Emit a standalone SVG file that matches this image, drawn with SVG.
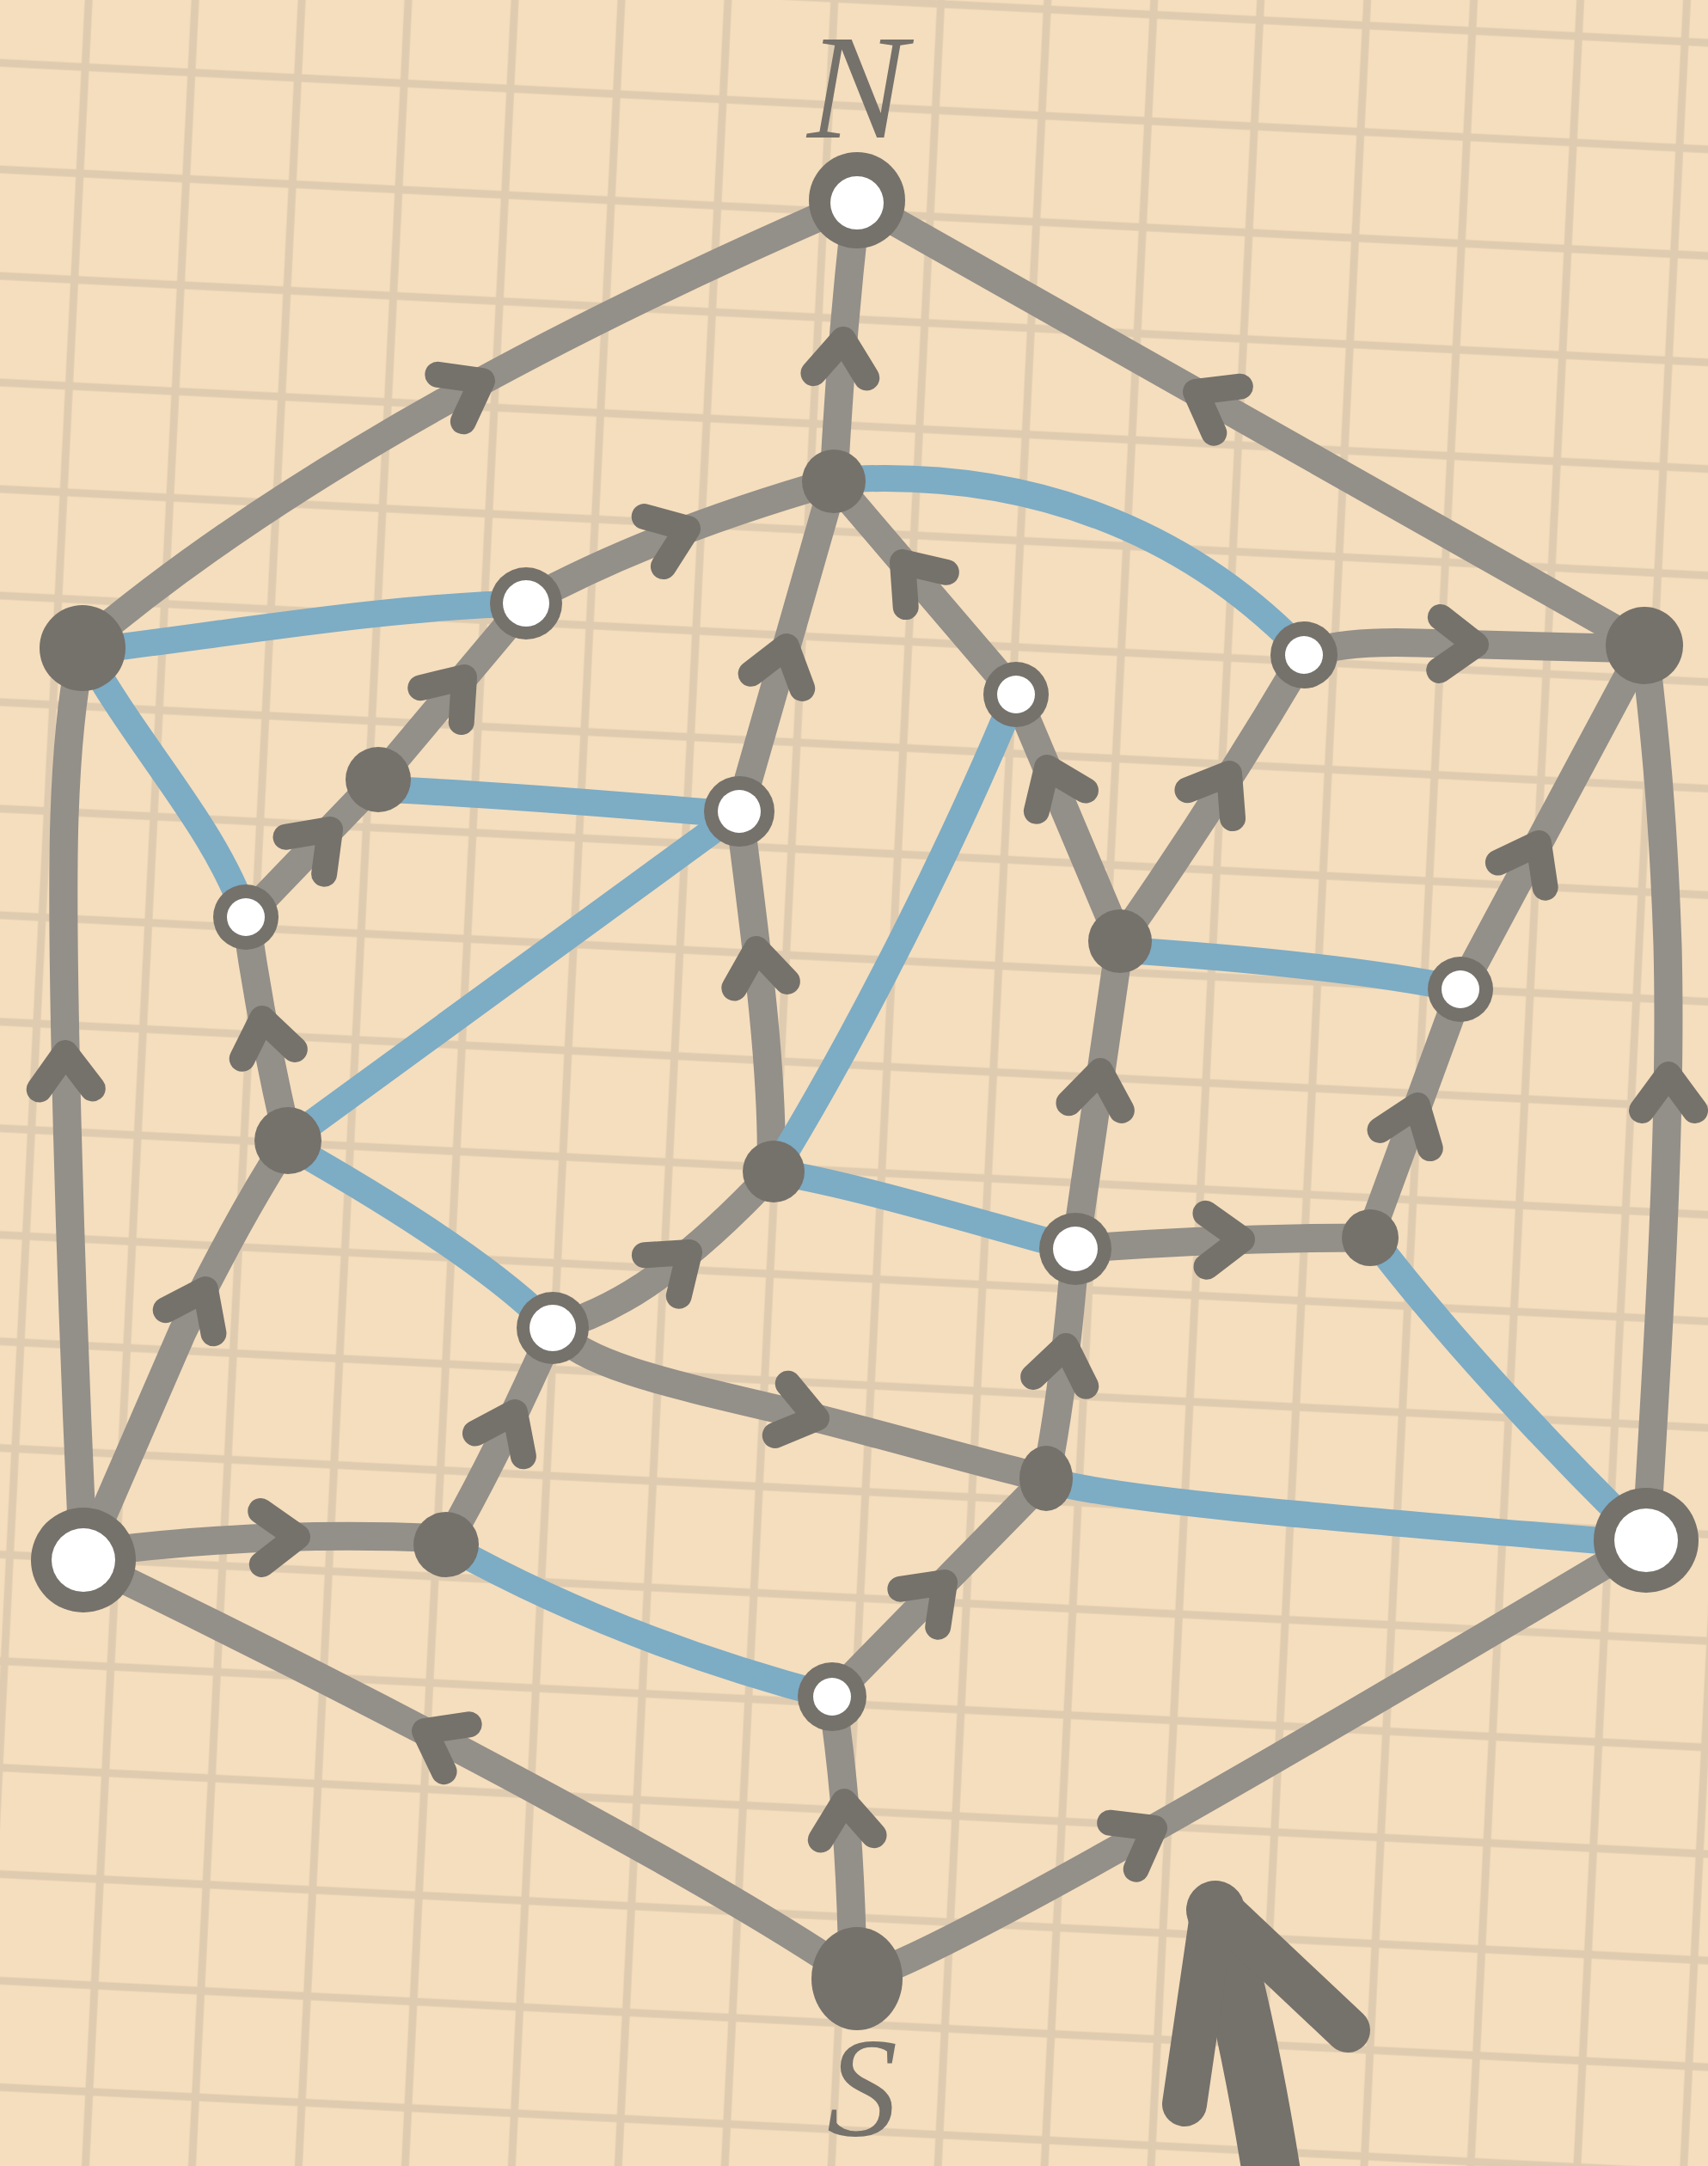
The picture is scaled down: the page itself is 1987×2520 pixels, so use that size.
<svg xmlns="http://www.w3.org/2000/svg" xmlns:xlink="http://www.w3.org/1999/xlink" width="1987" height="2520" viewBox="0 0 1987 2520">
<style>
.g{fill:none;stroke:#938F89;stroke-width:33;stroke-linecap:round;stroke-linejoin:round}
.b{fill:none;stroke:#7DACC5;stroke-width:31;stroke-linecap:round;stroke-linejoin:round}
.ah{fill:none;stroke:#75716B;stroke-width:30;stroke-linecap:round;stroke-linejoin:round}
.dk{fill:#75716B}
.wh{fill:#FFFFFF}
.lbl{font-family:"Liberation Serif","DejaVu Serif",serif;font-style:italic;fill:#75716B;text-anchor:middle}
.big{fill:none;stroke:#75716B;stroke-linecap:round;stroke-linejoin:round}
</style>
<defs>
<pattern id="grid" patternUnits="userSpaceOnUse" width="123.8" height="123.8" patternTransform="rotate(2.9)">
<rect width="123.8" height="123.8" fill="#F5DEBD"/>
<rect x="98.5" y="0" width="9" height="123.8" fill="#DFCBAF"/>
<rect x="0" y="68.5" width="123.8" height="9" fill="#DFCBAF"/>
</pattern>
<path id="ah" class="ah" d="M-42,-31 L0,0 L-42,31"/>
</defs>
<rect width="1987" height="2520" fill="url(#grid)"/>
<g id="connectors">
<path class="g" d="M96,752 Q408,487 998,233"/>
<path class="g" d="M1913,751 L997,233"/>
<path class="g" d="M997,2302 C850,2200 500,2010 97,1815"/>
<path class="g" d="M997,2302 C1070,2290 1500,2040 1915,1792"/>
<path class="g" d="M992,2302 Q990,2120 968,1974"/>
<path class="g" d="M968,1974 Q1080,1860 1217,1720"/>
<path class="g" d="M519,1797 Q580,1690 643,1547"/>
<path class="g" d="M97,1808 Q300,1780 519,1790"/>
<path class="g" d="M97,1815 C82,1500 70,1100 75,950 C78,860 85,800 96,752"/>
<path class="g" d="M1915,1792 C1930,1550 1945,1300 1940,1100 C1935,950 1925,850 1913,751"/>
<path class="g" d="M97,1815 L212,1550 Q275,1420 335,1327"/>
<path class="g" d="M335,1327 Q305,1200 286,1067"/>
<path class="g" d="M286,1067 L440,907"/>
<path class="g" d="M440,907 L612,702"/>
<path class="g" d="M611,701 Q760,620 970,560"/>
<path class="g" d="M970,560 Q978,400 997,233"/>
<path class="g" d="M860,944 L970,560"/>
<path class="g" d="M897,1362 C900,1250 880,1100 860,944"/>
<path class="g" d="M643,1545 C720,1525 800,1470 900,1363"/>
<path class="g" d="M643,1545 C680,1590 780,1610 950,1650 C1060,1678 1150,1705 1217,1720"/>
<path class="g" d="M1217,1720 Q1240,1600 1251,1453"/>
<path class="g" d="M1251,1453 L1303,1095"/>
<path class="g" d="M1251,1453 Q1420,1440 1594,1440"/>
<path class="g" d="M1594,1437 L1699,1151"/>
<path class="g" d="M1699,1151 L1913,751"/>
<path class="g" d="M1303,1095 L1182,808"/>
<path class="g" d="M1303,1095 Q1415,935 1517,762"/>
<path class="g" d="M1182,808 L970,560"/>
<path class="g" d="M1517,762 Q1560,745 1650,748 L1913,755"/>

<path class="b" d="M96,758 C250,740 450,705 612,702"/>
<path class="b" d="M96,752 C160,870 250,960 286,1067"/>
<path class="b" d="M440,918 C600,925 760,940 860,948"/>
<path class="b" d="M335,1327 L860,944"/>
<path class="b" d="M340,1335 Q560,1460 643,1545"/>
<path class="b" d="M900,1363 C1000,1200 1110,980 1180,810"/>
<path class="b" d="M980,558 C1200,545 1380,620 1510,752"/>
<path class="b" d="M1303,1105 C1450,1115 1600,1130 1699,1151"/>
<path class="b" d="M900,1363 C1000,1380 1130,1420 1251,1453"/>
<path class="b" d="M1594,1437 C1680,1550 1800,1680 1915,1792"/>
<path class="b" d="M1217,1722 C1300,1745 1500,1762 1915,1797"/>
<path class="b" d="M519,1797 C650,1870 800,1930 968,1974"/>

<use href="#ah" transform="translate(561,443) rotate(-28.5)"/>
<use href="#ah" transform="translate(1391,456) rotate(-150.5)"/>
<use href="#ah" transform="translate(494,2014) rotate(-152)"/>
<use href="#ah" transform="translate(1343,2127) rotate(-29.5)"/>
<use href="#ah" transform="translate(982,2096) rotate(-95)"/>
<use href="#ah" transform="translate(1099,1841) rotate(-45)"/>
<use href="#ah" transform="translate(599,1643) rotate(-64.5)"/>
<use href="#ah" transform="translate(346,1788) rotate(-1.4)"/>
<use href="#ah" transform="translate(76,1225) rotate(-91)"/>
<use href="#ah" transform="translate(1941,1250) rotate(-90)"/>
<use href="#ah" transform="translate(239,1500) rotate(-64)"/>
<use href="#ah" transform="translate(305,1185) rotate(-100)"/>
<use href="#ah" transform="translate(384,965) rotate(-46)"/>
<use href="#ah" transform="translate(540,788) rotate(-50)"/>
<use href="#ah" transform="translate(800,615) rotate(-21)"/>
<use href="#ah" transform="translate(981,395) rotate(-85)"/>
<use href="#ah" transform="translate(915,752) rotate(-74)"/>
<use href="#ah" transform="translate(880,1104) rotate(-97)"/>
<use href="#ah" transform="translate(802,1457) rotate(-40)"/>
<use href="#ah" transform="translate(950,1650) rotate(14)"/>
<use href="#ah" transform="translate(1240,1566) rotate(-80)"/>
<use href="#ah" transform="translate(1280,1246) rotate(-82)"/>
<use href="#ah" transform="translate(1445,1442) rotate(-1)"/>
<use href="#ah" transform="translate(1649,1286) rotate(-70)"/>
<use href="#ah" transform="translate(1790,981) rotate(-62)"/>
<use href="#ah" transform="translate(1218,893) rotate(-113)"/>
<use href="#ah" transform="translate(1430,900) rotate(-58)"/>
<use href="#ah" transform="translate(1050,654) rotate(-130.5)"/>
<use href="#ah" transform="translate(1717,750) rotate(1.5)"/>
</g>
<g id="node-N"><circle class="dk" cx="997" cy="233" r="56"/><circle class="wh" cx="997" cy="236" r="31"/></g>
<g id="node-S"><ellipse class="dk" cx="997" cy="2302" rx="53" ry="60"/></g>
<g id="node-L"><circle class="dk" cx="96" cy="754" r="50"/></g>
<g id="node-R"><circle class="dk" cx="1913" cy="751" r="45"/></g>
<g id="node-A"><circle class="dk" cx="612" cy="702" r="42"/><circle class="wh" cx="612" cy="702" r="27"/></g>
<g id="node-B"><circle class="dk" cx="970" cy="560" r="37"/></g>
<g id="node-C"><circle class="dk" cx="1182" cy="808" r="38"/><circle class="wh" cx="1182" cy="808" r="22"/></g>
<g id="node-D"><circle class="dk" cx="1517" cy="762" r="39"/><circle class="wh" cx="1517" cy="762" r="22"/></g>
<g id="node-E"><circle class="dk" cx="440" cy="907" r="38"/></g>
<g id="node-F"><circle class="dk" cx="860" cy="944" r="41"/><circle class="wh" cx="860" cy="944" r="25"/></g>
<g id="node-G"><circle class="dk" cx="286" cy="1067" r="38"/><circle class="wh" cx="286" cy="1067" r="22"/></g>
<g id="node-H"><circle class="dk" cx="1303" cy="1095" r="37"/></g>
<g id="node-I"><circle class="dk" cx="1699" cy="1151" r="38"/><circle class="wh" cx="1699" cy="1151" r="22"/></g>
<g id="node-J"><circle class="dk" cx="335" cy="1327" r="39"/></g>
<g id="node-K"><circle class="dk" cx="900" cy="1363" r="36"/></g>
<g id="node-L2"><circle class="dk" cx="1251" cy="1453" r="42"/><circle class="wh" cx="1251" cy="1453" r="26"/></g>
<g id="node-M"><circle class="dk" cx="1594" cy="1440" r="33"/></g>
<g id="node-O"><circle class="dk" cx="643" cy="1545" r="42"/><circle class="wh" cx="643" cy="1545" r="27"/></g>
<g id="node-P"><ellipse class="dk" cx="1217" cy="1720" rx="31" ry="38"/></g>
<g id="node-LB"><circle class="dk" cx="97" cy="1815" r="61"/><circle class="wh" cx="97" cy="1815" r="37"/></g>
<g id="node-Q"><circle class="dk" cx="519" cy="1797" r="38"/></g>
<g id="node-RB"><circle class="dk" cx="1915" cy="1792" r="61"/><circle class="wh" cx="1915" cy="1792" r="37"/></g>
<g id="node-T"><circle class="dk" cx="968" cy="1974" r="40"/><circle class="wh" cx="968" cy="1974" r="22"/></g>
<g id="labels">
<text class="lbl" x="997" y="160" font-size="174">N</text>
<text class="lbl" x="1003" y="2484" font-size="165">S</text>
</g>
<g id="big-arrow">
<path class="big" stroke-width="68" d="M1414,2222 Q1458,2380 1487,2580"/>
<path class="big" stroke-width="52" d="M1378,2448 L1412,2215 L1568,2362"/>
</g>
</svg>
